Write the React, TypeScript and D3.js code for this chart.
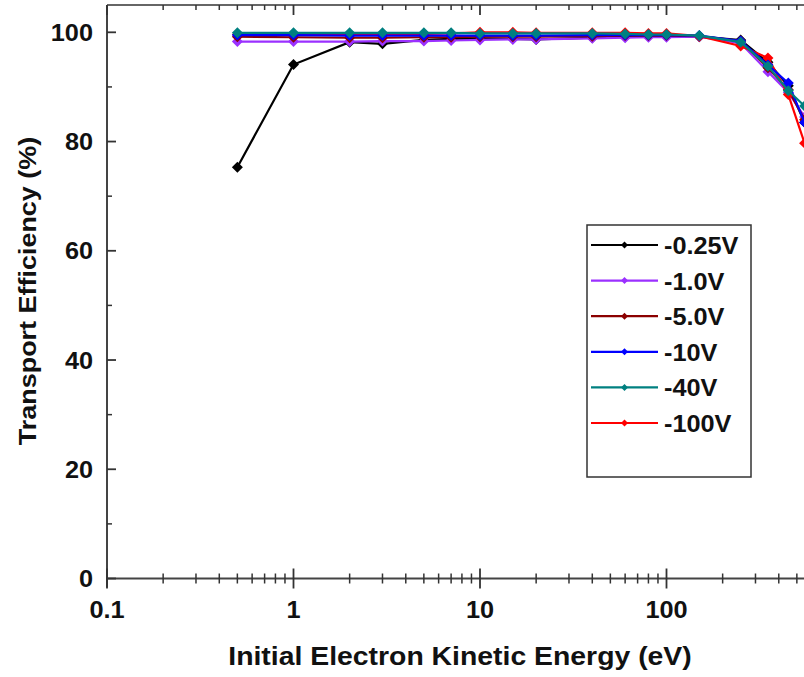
import React from "react";
import * as d3 from "d3";

const energies = [0.5, 1, 2, 3, 5, 7, 10, 15, 20, 40, 60, 80, 100, 150, 250, 350, 450, 550];
const seriesNames = ["-0.25V", "-1.0V", "-5.0V", "-10V", "-40V", "-100V"];
const seriesColors = ["#000000", "#9b30ff", "#8b0000", "#0000ff", "#008080", "#ff0000"];
const v025 = [75.3, 94.1, 98.2, 97.9, 98.6, 98.8, 98.9, 98.8, 98.7, 99.0, 99.2, 99.3, 99.3, 99.2, 98.6, 94.5, 90.2, 83.5];
const v1 = [98.3, 98.3, 98.3, 98.4, 98.4, 98.5, 98.6, 98.7, 98.7, 98.9, 99.0, 99.1, 99.1, 99.2, 98.0, 92.8, 89.0, 84.5];
const v5 = [99.2, 99.1, 99.0, 99.0, 99.1, 99.1, 99.2, 99.2, 99.2, 99.3, 99.4, 99.4, 99.4, 99.3, 98.4, 93.5, 89.5, 84.0];
const v10 = [99.5, 99.5, 99.4, 99.4, 99.4, 99.4, 99.4, 99.4, 99.4, 99.5, 99.5, 99.5, 99.5, 99.4, 98.4, 94.0, 90.7, 83.5];
const v40 = [99.9, 99.9, 99.9, 99.9, 99.9, 99.9, 99.8, 99.8, 99.8, 99.8, 99.7, 99.6, 99.6, 99.4, 98.2, 93.8, 89.3, 86.5];
const v100 = [99.6, 99.6, 99.6, 99.6, 99.7, 99.8, 100, 100, 99.9, 99.9, 99.9, 99.8, 99.8, 99.3, 97.5, 95.3, 88.6, 79.7];
const seriesValues = [v025, v1, v5, v10, v40, v100];
const drawOrder = [0, 1, 2, 5, 3, 4];
const xTickLabels = ["0.1", "1", "10", "100"];
const yTickLabels = [0, 20, 40, 60, 80, 100];
const xTitle = "Initial Electron Kinetic Energy (eV)";
const yTitle = "Transport Efficiency (%)";

const W = 804;
const H = 677;
const x = d3.scaleLog().domain([0.1, 1000]).range([107, 853]);
const y = d3.scaleLinear().domain([0, 105]).range([578.5, 5]);
const FONT = "'Liberation Sans', Arial, sans-serif";
const SX = 1.1;

function SText(props: { x: number; y: number; anchor?: string; size: number; children: React.ReactNode; rotate?: number }) {
  const rot = props.rotate ? ` rotate(${props.rotate})` : "";
  return (
    <text
      transform={`translate(${props.x},${props.y})${rot} scale(${SX},1)`}
      textAnchor={props.anchor || "start"}
      fontFamily={FONT}
      fontWeight="bold"
      fontSize={props.size}
      fill="#111"
    >
      {props.children}
    </text>
  );
}

function diamond(cx: number, cy: number, r: number) {
  return `M${cx},${cy - r}L${cx + r},${cy}L${cx},${cy + r}L${cx - r},${cy}Z`;
}

export default function App() {
  const line = d3
    .line<number>()
    .x((_, i) => x(energies[i]))
    .y((d) => y(d));

  const majors = [0.1, 1, 10, 100, 1000];
  const minors: number[] = [];
  for (let dec = 0.1; dec < 1000; dec *= 10) {
    for (let k = 2; k <= 9; k++) minors.push(+(dec * k).toPrecision(3));
  }
  const yMajors = d3.range(0, 101, 20);
  const yMinors = d3.range(10, 100, 20);
  const x0 = x(0.1);
  const yb = y(0);
  const yt = 5;

  const legendX = 587;
  const legendY = 225;
  const rowY = (i: number) => 245 + i * 35.6;

  return (
    <svg width={W} height={H} style={{ position: "fixed", left: 0, top: 0, background: "#fff" }}>
      <rect x={0} y={0} width={W} height={H} fill="#fff" />
      {/* series */}
      {drawOrder.map((si) => (
        <g key={si}>
          <path d={line(seriesValues[si]) || ""} fill="none" stroke={seriesColors[si]} strokeWidth={2.2} />
          {seriesValues[si].map((v, i) => (
            <path key={i} d={diamond(x(energies[i]), y(v), 5.5)} fill={seriesColors[si]} />
          ))}
        </g>
      ))}
      {/* frame */}
      <line x1={x0} x2={W + 10} y1={yb} y2={yb} stroke="#444" strokeWidth={2} />
      <line x1={x0} x2={W + 10} y1={yt} y2={yt} stroke="#666" strokeWidth={2} />
      <line x1={x0} x2={x0} y1={yt} y2={yb + 9} stroke="#444" strokeWidth={2} />
      {/* x ticks bottom */}
      {majors.map((t) => (
        <line key={"bm" + t} x1={x(t)} x2={x(t)} y1={yb - 10} y2={yb + 10} stroke="#333" strokeWidth={1.8} />
      ))}
      {minors.map((t) => (
        <line key={"bn" + t} x1={x(t)} x2={x(t)} y1={yb - 5} y2={yb + 5} stroke="#333" strokeWidth={1.5} />
      ))}
      {/* x ticks top */}
      {majors.map((t) => (
        <line key={"tm" + t} x1={x(t)} x2={x(t)} y1={yt} y2={yt + 10} stroke="#333" strokeWidth={1.8} />
      ))}
      {minors.map((t) => (
        <line key={"tn" + t} x1={x(t)} x2={x(t)} y1={yt} y2={yt + 5} stroke="#333" strokeWidth={1.5} />
      ))}
      {/* y ticks */}
      {yMajors.map((t) => (
        <line key={"ym" + t} x1={x0} x2={x0 + 9} y1={y(t)} y2={y(t)} stroke="#333" strokeWidth={1.8} />
      ))}
      {yMinors.map((t) => (
        <line key={"yn" + t} x1={x0} x2={x0 + 5} y1={y(t)} y2={y(t)} stroke="#333" strokeWidth={1.5} />
      ))}
      {/* tick labels */}
      {xTickLabels.map((lab) => (
        <SText key={lab} x={x(+lab)} y={618} anchor="middle" size={23}>
          {lab}
        </SText>
      ))}
      {yTickLabels.map((t) => (
        <SText key={t} x={93} y={y(t) + 8.5} anchor="end" size={23}>
          {String(t)}
        </SText>
      ))}
      {/* titles */}
      <SText x={460} y={665} anchor="middle" size={25.8}>
        {xTitle}
      </SText>
      <SText x={36} y={291} anchor="middle" size={24.5} rotate={-90}>
        {yTitle}
      </SText>
      {/* legend */}
      <rect x={legendX} y={legendY} width={164} height={252} fill="#fff" stroke="#333" strokeWidth={1.5} />
      {seriesNames.map((n, i) => (
        <g key={n}>
          <line x1={591} x2={658} y1={rowY(i)} y2={rowY(i)} stroke={seriesColors[i]} strokeWidth={2.2} />
          <path d={diamond(624.5, rowY(i), 3.5)} fill={seriesColors[i]} />
          <SText x={664} y={rowY(i) + 9} size={23}>
            {n}
          </SText>
        </g>
      ))}
    </svg>
  );
}
